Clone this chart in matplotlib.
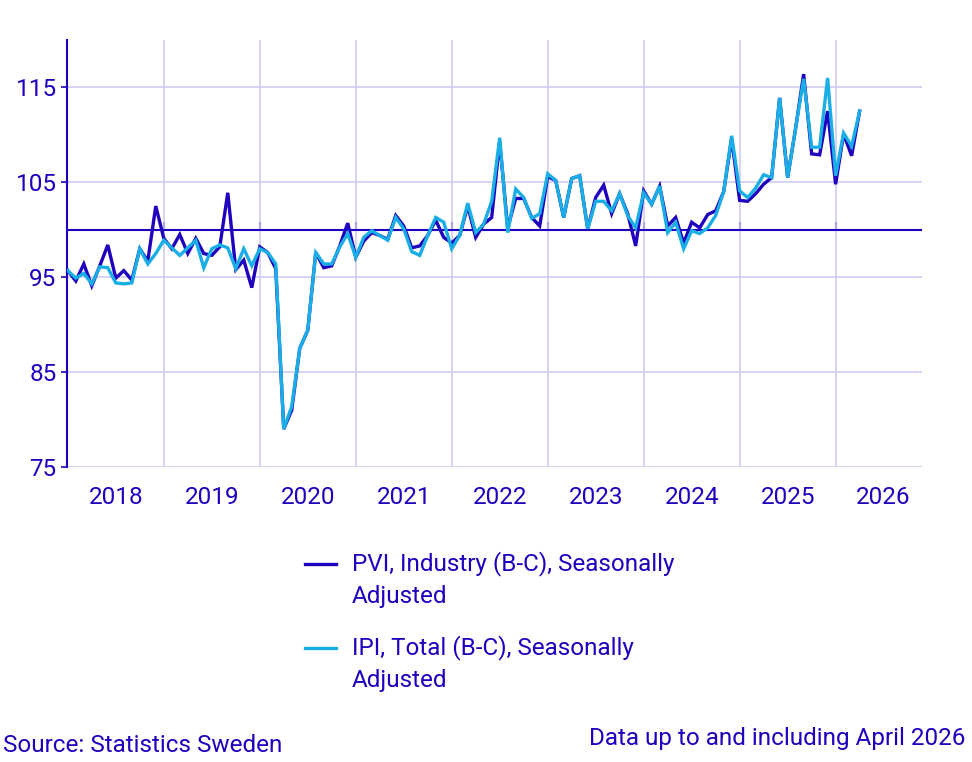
import matplotlib
matplotlib.use("Agg")
import matplotlib.pyplot as plt
from matplotlib.lines import Line2D
import numpy as np

plt.rcParams['font.family'] = ['Roboto', 'DejaVu Sans']

years = ['2018', '2019', '2020', '2021', '2022', '2023', '2024', '2025', '2026']
y_ticks = [75, 85, 95, 105, 115]

pvi = [
    95.7, 94.6, 96.4, 94.1, 96.2, 98.4, 94.9, 95.7, 94.7, 98.0, 96.7, 102.5,
    99.1, 98.0, 99.5, 97.5, 99.1, 97.5, 97.3, 98.2, 103.9, 95.8, 96.8, 93.9,
    98.2, 97.6, 95.9, 79.0, 81.0, 87.5, 89.4, 97.6, 96.0, 96.2, 98.3, 100.7,
    97.1, 98.8, 99.7, 99.4, 99.0, 101.5, 100.4, 98.1, 98.3, 99.4, 101.0, 99.2,
    98.6, 99.4, 102.5, 99.2, 100.6, 101.3, 109.3, 100.2, 103.3, 103.3, 101.3, 100.4,
    105.6, 105.2, 101.3, 105.4, 105.7, 100.1, 103.4, 104.7, 101.7, 103.8, 101.7, 98.3,
    104.1, 102.7, 104.6, 100.4, 101.3, 98.6, 100.8, 100.2, 101.6, 102.0, 104.0, 109.6,
    103.1, 103.0, 103.8, 104.8, 105.5, 113.9, 105.5, 110.7, 116.4, 108.0, 107.9, 112.5,
    104.8, 110.1, 107.8, 112.5,
]
ipi = [
    95.7, 94.9, 95.4, 94.3, 96.1, 96.0, 94.4, 94.3, 94.4, 98.0, 96.4, 97.5,
    98.9, 98.1, 97.3, 98.1, 98.9, 96.0, 98.0, 98.4, 98.1, 95.9, 98.0, 96.2,
    98.0, 97.6, 96.4, 79.0, 81.4, 87.5, 89.4, 97.6, 96.4, 96.4, 98.2, 99.6,
    97.1, 99.2, 99.9, 99.4, 98.9, 101.3, 100.1, 97.7, 97.3, 99.4, 101.3, 100.8,
    98.0, 99.4, 102.8, 99.7, 100.6, 103.0, 109.7, 99.7, 104.3, 103.4, 101.2, 101.7,
    105.9, 105.2, 101.3, 105.4, 105.7, 100.1, 103.0, 103.0, 102.0, 103.8, 101.5, 100.2,
    103.9, 102.7, 104.6, 99.7, 100.8, 98.0, 99.9, 99.6, 100.2, 101.5, 104.0, 109.9,
    104.1, 103.4, 104.4, 105.8, 105.5, 113.9, 105.5, 110.7, 115.9, 108.7, 108.7, 116.0,
    105.7, 110.2, 108.8, 112.5,
]
labels = ['PVI, Industry (B-C), Seasonally\nAdjusted', 'IPI, Total (B-C), Seasonally\nAdjusted']

DARK = '#1E00BE'
LIGHT = '#1AAEE6'
GRID = '#CFCBF0'
FS = 17.5
W, H = 972, 762

fig = plt.figure(figsize=(W/100, H/100), dpi=100)
ax = fig.add_axes([67/W, 1-467/H, (922-67)/W, (467-40)/H])

x = np.arange(len(pvi))
l1, = ax.plot(x, pvi, color=DARK, lw=2.4, zorder=3, solid_joinstyle='miter')
l2, = ax.plot(x, ipi, color=LIGHT, lw=2.4, zorder=4, solid_joinstyle='miter')

ax.set_xlim(-0.1, 106.8)
ax.set_ylim(75, 120)
ax.axhline(100, color=DARK, lw=1.5, zorder=2)

ax.set_yticks(y_ticks)
ax.set_yticklabels([str(v) for v in y_ticks], color=DARK, fontsize=FS)
ax.set_xticks([6 + 12*i for i in range(len(years))])
ax.set_xticklabels(years, color=DARK, fontsize=FS)
ax.set_xticks([12*i for i in range(1, len(years))], minor=True)
ax.tick_params(axis='x', which='both', length=0, pad=14)
ax.tick_params(axis='y', length=4.5, width=1.2, color=DARK, pad=3)

ax.grid(True, axis='y', color=GRID, lw=1.2, zorder=0)
ax.grid(True, axis='x', which='minor', color=GRID, lw=1.2, zorder=0)
for s in ['top', 'right', 'bottom']:
    ax.spines[s].set_visible(False)
ax.spines['left'].set_color(DARK)
ax.spines['left'].set_linewidth(1.5)

sec = ax.secondary_xaxis((100-75)/(120-75))
sec.set_xticks([12*i for i in range(1, len(years))])
sec.set_xticklabels([])
sec.tick_params(length=6, width=1.5, color=DARK, direction='out')
for s in sec.spines.values():
    s.set_visible(False)

# legend (manual, handle aligned with first text line)
entry_y = [564, 648]
for line, lab, yc in zip([l1, l2], labels, entry_y):
    fig.add_artist(Line2D([305/W, 336/W], [1-yc/H, 1-yc/H], color=line.get_color(),
                          lw=line.get_linewidth(), transform=fig.transFigure))
    for k, part in enumerate(lab.split('\n')):
        fig.text(352/W, 1-(yc + 32*k)/H, part, color=DARK, fontsize=FS,
                 ha='left', va='center')

fig.text(3/W, 1-745/H, 'Source: Statistics Sweden', color=DARK, fontsize=FS,
         ha='left', va='center')
fig.text(965/W, 1-739/H, 'Data up to and including April 2026', color=DARK,
         fontsize=FS, ha='right', va='center')

fig.savefig('out.png', dpi=100)
